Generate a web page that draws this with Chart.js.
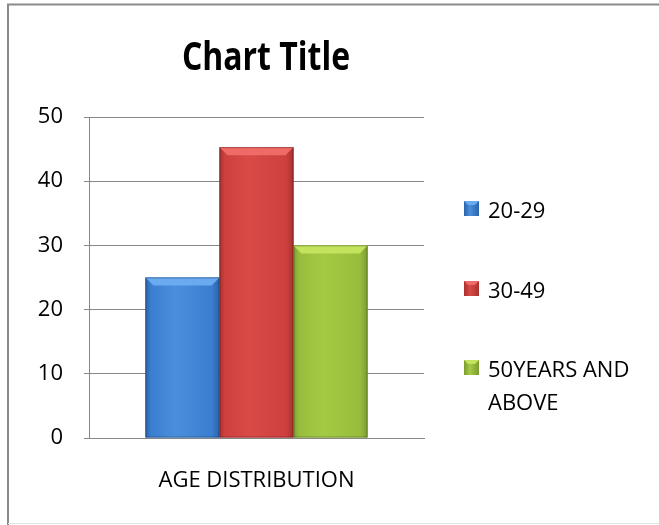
<!DOCTYPE html>
<html>
<head>
<meta charset="utf-8">
<script src="https://cdn.jsdelivr.net/npm/chart.js@4.4.1/dist/chart.umd.min.js"></script>
<style>
  html, body { margin: 0; padding: 0; background: #ffffff; }
  #wrap { width: 659px; height: 525px; position: relative; }
</style>
</head>
<body>
<div id="wrap"><canvas id="c" width="659" height="525"></canvas></div>
<script>
// ---- data ----
const categories = ['AGE DISTRIBUTION'];
const seriesNames = ['20-29', '30-49', '50YEARS AND ABOVE'];
const values2029 = [25];
const values3049 = [45.3];
const values50Plus = [30];
const yTickMin = 0;
const yTickMax = 50;
const yTickStep = 10;
const chartTitle = 'Chart Title';

// ---- styles ----
const palettes = [
  { base: '#3b7dd0', dark: '#2b63aa', light: '#4a8fdc', top: '#6aaaf0' },
  { base: '#cd403d', dark: '#a8312e', light: '#d94a47', top: '#ee6b67' },
  { base: '#98bd3d', dark: '#7b9c2f', light: '#a4ca44', top: '#c3e35f' }
];
const FONT = '"Open Sans", "DejaVu Sans", sans-serif';
const gridColor = '#878787';

const bevelPlugin = {
  id: 'bevel',
  afterDatasetsDraw(chart) {
    const ctx = chart.ctx;
    chart.data.datasets.forEach((ds, di) => {
      const meta = chart.getDatasetMeta(di);
      const p = palettes[di];
      meta.data.forEach(bar => {
        const L = bar.x - bar.width / 2, R = bar.x + bar.width / 2;
        const T = Math.min(bar.y, bar.base), B = Math.max(bar.y, bar.base);
        ctx.save();
        const g = ctx.createLinearGradient(L, 0, R, 0);
        g.addColorStop(0, p.dark);
        g.addColorStop(0.07, p.base);
        g.addColorStop(0.4, p.light);
        g.addColorStop(0.9, p.base);
        g.addColorStop(1, p.dark);
        ctx.fillStyle = g;
        ctx.fillRect(L, T, R - L, B - T);
        const b = 8;
        ctx.fillStyle = p.top;
        ctx.beginPath();
        ctx.moveTo(L, T); ctx.lineTo(R, T); ctx.lineTo(R - b, T + b); ctx.lineTo(L + b, T + b);
        ctx.closePath(); ctx.fill();
        ctx.strokeStyle = 'rgba(0,0,0,0.25)';
        ctx.lineWidth = 1;
        ctx.strokeRect(L + 0.5, T + 0.5, R - L - 1, B - T - 1);
        ctx.restore();
      });
    });
  }
};

const framePlugin = {
  id: 'frame',
  beforeDraw(chart) {
    const ctx = chart.ctx;
    ctx.save();
    ctx.fillStyle = '#ffffff';
    ctx.fillRect(0, 0, chart.width, chart.height);
    ctx.strokeStyle = '#8a8a8a';
    ctx.lineWidth = 2;
    ctx.beginPath();
    ctx.moveTo(8, 525); ctx.lineTo(8, 4.5); ctx.lineTo(659, 4.5);
    ctx.stroke();
    ctx.strokeStyle = '#e4e4e4';
    ctx.lineWidth = 1;
    ctx.beginPath();
    ctx.moveTo(8, 523.5); ctx.lineTo(659, 523.5);
    ctx.stroke();
    ctx.restore();
  },
  afterDraw(chart) {
    const ctx = chart.ctx;
    ctx.save();
    // title
    ctx.fillStyle = '#000000';
    ctx.font = 'bold 39px ' + FONT;
    ctx.textAlign = 'center';
    ctx.textBaseline = 'alphabetic';
    ctx.translate(266, 70);
    ctx.scale(0.82, 1);
    ctx.fillText(chartTitle, 0, 0);
    ctx.restore();
    // legend
    ctx.save();
    ctx.font = '22px ' + FONT;
    ctx.textAlign = 'left';
    ctx.textBaseline = 'alphabetic';
    const baselines = [218, 298, 377];
    chart.data.datasets.forEach((ds, i) => {
      const p = palettes[i];
      const y = baselines[i];
      const mx = 464, my = y - 17, s = 15;
      const g = ctx.createLinearGradient(mx, 0, mx + s, 0);
      g.addColorStop(0, p.dark); g.addColorStop(0.4, p.light); g.addColorStop(1, p.dark);
      ctx.fillStyle = g;
      ctx.fillRect(mx, my, s, s);
      ctx.fillStyle = p.top;
      ctx.beginPath();
      ctx.moveTo(mx, my); ctx.lineTo(mx + s, my); ctx.lineTo(mx + s - 4, my + 4); ctx.lineTo(mx + 4, my + 4);
      ctx.closePath(); ctx.fill();
      ctx.fillStyle = '#000000';
      const words = ds.label.split(' ');
      let lines = [ds.label];
      if (ctx.measureText(ds.label).width > 160) {
        lines = [words.slice(0, 2).join(' '), words.slice(2).join(' ')];
      }
      lines.forEach((ln, k) => ctx.fillText(ln, 488, y + k * 33));
    });
    ctx.restore();
  }
};

const datasets = [values2029, values3049, values50Plus].map((vals, i) => ({
  label: seriesNames[i],
  data: vals,
  backgroundColor: palettes[i].base,
  borderWidth: 0,
  categoryPercentage: 0.663,
  barPercentage: 1.0
}));

new Chart(document.getElementById('c'), {
  type: 'bar',
  data: { labels: categories, datasets },
  options: {
    responsive: false,
    animation: false,
    layout: { padding: { left: 0, right: 235, top: 117, bottom: 0 } },
    plugins: { legend: { display: false }, title: { display: false }, tooltip: { enabled: false } },
    scales: {
      x: {
        grid: { display: false, drawTicks: false },
        border: { display: true, color: gridColor, width: 1 },
        ticks: { color: '#000000', font: { family: FONT, size: 22 }, padding: 30 },
        afterFit(scale) { scale.height = 87; }
      },
      y: {
        min: yTickMin, max: yTickMax,
        ticks: { stepSize: yTickStep, color: '#000000', font: { family: FONT, size: 22 }, padding: 21 },
        grid: { color: gridColor, lineWidth: 1, drawTicks: true, tickLength: 5, tickColor: gridColor },
        border: { display: true, color: gridColor, width: 1 },
        afterFit(scale) { scale.width = 89; }
      }
    }
  },
  plugins: [framePlugin, bevelPlugin]
});
</script>
</body>
</html>
